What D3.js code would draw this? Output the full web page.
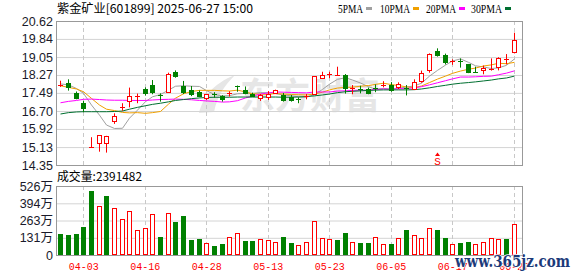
<!DOCTYPE html>
<html><head><meta charset="utf-8">
<script src="https://cdn.jsdelivr.net/npm/d3@7/dist/d3.min.js"></script>
<style>body{margin:0;background:#fff}svg{display:block}</style>
</head><body><div id="chart"></div>
<script>
const dates=["03-31","04-01","04-02","04-03","04-07","04-08","04-09","04-10","04-11","04-14","04-15","04-16","04-17","04-18","04-21","04-22","04-23","04-24","04-25","04-28","04-29","04-30","05-06","05-07","05-08","05-09","05-12","05-13","05-14","05-15","05-16","05-19","05-20","05-21","05-22","05-23","05-26","05-27","05-28","05-29","05-30","06-03","06-04","06-05","06-06","06-09","06-10","06-11","06-12","06-13","06-16","06-17","06-18","06-19","06-20","06-23","06-24","06-25","06-26","06-27"];
const open =[17.82,17.93,17.50,17.06,15.10,15.30,15.30,16.27,16.87,17.15,17.36,17.65,17.83,17.39,17.52,18.41,17.79,17.60,17.53,17.28,17.44,17.34,17.45,17.81,17.62,17.45,17.28,17.31,17.50,17.40,17.33,17.22,17.33,17.44,18.13,18.27,18.25,18.25,17.69,17.66,17.65,17.72,17.82,17.83,17.73,17.71,17.68,18.02,18.49,19.31,19.14,18.85,18.90,18.73,18.42,18.49,18.47,18.62,18.96,19.26];
const high =[18.02,18.08,17.55,17.14,15.56,15.65,15.62,16.60,17.04,17.72,17.46,17.73,18.05,17.47,18.37,18.47,18.01,17.79,17.60,17.44,17.52,17.39,17.56,17.81,17.77,17.50,17.44,17.57,17.63,17.49,17.40,17.30,17.44,18.22,18.41,18.41,18.63,18.31,17.83,17.80,17.72,17.86,18.00,17.96,17.95,17.83,18.08,18.46,19.21,19.43,19.20,18.95,18.99,18.75,18.63,18.68,18.99,19.04,19.18,20.11];
const low  =[17.75,17.59,17.21,16.65,15.10,14.93,14.89,16.14,16.71,16.86,17.04,17.37,17.43,17.11,17.50,18.15,17.44,17.35,17.30,17.18,17.28,17.11,17.33,17.54,17.43,17.31,17.14,17.18,17.48,17.11,17.11,17.04,17.21,17.42,18.12,18.13,18.24,17.46,17.43,17.47,17.43,17.52,17.73,17.54,17.65,17.38,17.66,17.93,18.37,19.07,18.73,18.71,18.59,18.35,18.38,18.30,18.46,18.47,18.73,19.21];
const close=[17.83,17.76,17.25,16.85,15.12,15.64,15.60,16.48,16.89,17.35,17.37,17.47,17.53,17.37,18.31,18.23,17.54,17.43,17.35,17.42,17.38,17.21,17.47,17.79,17.50,17.36,17.40,17.44,17.62,17.19,17.17,17.20,17.34,18.21,18.28,18.30,18.26,17.69,17.71,17.64,17.49,17.70,17.84,17.63,17.86,17.69,17.98,18.37,19.17,19.14,18.85,18.87,18.84,18.39,18.40,18.59,18.51,18.99,18.97,19.79];
// volume in 万 (10k)
const volume=[160,152,160,213,488,374,450,358,272,335,191,206,312,137,320,251,297,114,122,91,69,84,137,168,107,107,122,114,99,137,91,76,99,259,130,122,114,168,99,91,91,137,84,84,130,191,152,130,206,191,130,84,91,99,84,99,130,122,122,239];
// 1 = red (up vs previous close), 0 = green
const volUp=[0,0,0,0,0,1,0,1,1,1,1,1,1,0,1,0,0,0,0,1,0,0,1,1,0,0,1,1,1,0,0,1,1,1,1,1,0,0,1,0,0,1,1,0,1,0,1,1,1,0,0,1,0,0,1,1,1,1,0,1];
const ma5 =[17.88,17.84,17.68,17.47,16.96,16.52,16.09,15.94,15.95,16.39,16.74,17.11,17.32,17.42,17.61,17.78,17.80,17.78,17.77,17.59,17.42,17.36,17.37,17.45,17.47,17.47,17.50,17.50,17.46,17.40,17.36,17.32,17.30,17.42,17.64,17.87,18.08,18.15,18.05,17.92,17.76,17.65,17.68,17.66,17.70,17.74,17.80,17.91,18.22,18.47,18.70,18.88,18.97,18.82,18.67,18.62,18.55,18.58,18.69,18.97];
const ma10=[17.80,17.73,17.66,17.54,17.25,16.96,16.78,16.72,16.64,16.62,16.63,16.60,16.63,16.68,17.00,17.26,17.45,17.55,17.60,17.60,17.60,17.58,17.57,17.61,17.53,17.45,17.43,17.43,17.46,17.44,17.42,17.41,17.40,17.44,17.52,17.62,17.70,17.73,17.74,17.78,17.81,17.86,17.91,17.85,17.81,17.75,17.72,17.79,17.94,18.09,18.22,18.34,18.44,18.52,18.57,18.66,18.71,18.78,18.76,18.82];
const ma20=[17.06,17.12,17.16,17.21,17.22,17.20,17.18,17.17,17.17,17.16,17.16,17.16,17.18,17.20,17.21,17.22,17.21,17.19,17.16,17.14,17.12,17.09,17.10,17.15,17.27,17.35,17.44,17.49,17.53,17.52,17.51,17.50,17.49,17.53,17.53,17.53,17.57,17.58,17.60,17.61,17.61,17.64,17.66,17.65,17.67,17.68,17.71,17.76,17.84,17.93,18.02,18.10,18.18,18.18,18.19,18.21,18.22,18.28,18.35,18.45];
const ma30=[16.57,16.63,16.66,16.67,16.67,16.67,16.67,16.68,16.70,16.78,16.86,16.93,16.99,17.04,17.10,17.16,17.20,17.24,17.27,17.29,17.30,17.30,17.30,17.31,17.31,17.31,17.31,17.31,17.31,17.30,17.30,17.31,17.33,17.36,17.40,17.44,17.50,17.54,17.56,17.58,17.60,17.61,17.62,17.62,17.62,17.62,17.63,17.66,17.71,17.77,17.82,17.87,17.91,17.94,17.97,18.01,18.05,18.10,18.14,18.22];
const priceTicks=[14.35,15.13,15.92,16.70,17.49,18.27,19.05,19.84,20.62];
const volTicks=[0,131,263,394,526];
const volTickLabels=["0","131万","263万","394万","526万"];
const xTickIdx=[3,11,19,27,35,43,51,59];
const maNames=["5PMA","10PMA","20PMA","30PMA"];
const title="紫金矿业[601899] 2025-06-27 15:00";
const volTitle="成交量:2391482";
const signalIdx=49;

const W=578,H=276;
const L=56,R=522,PT=21,PB=165,VT=186,VB=255;
const RED="#ff0000",GREEN="#008000";
const maColors=["#a0a0a0","#f0a000","#ff00ff","#006f30"];

const svg=d3.select("#chart").append("svg").attr("width",W).attr("height",H);
const x=d3.scaleLinear().domain([0,59]).range([60.2,513.7]);
const yP=d3.scaleLinear().domain([14.35,20.62]).range([PB,PT]);
const yV=d3.scaleLinear().domain([0,526]).range([VB,VT]);
const cx=i=>Math.round(x(i));

// watermark (behind)
const wm=svg.append("g").attr("fill","#e6e6e6");
wm.append("path").attr("d","M199,113 C203,98 212,84 235,75 C224,86 217,97 214,112 Z M206,104 C211,92 219,84 228,80");
wm.append("text").attr("x",240).attr("y",109).attr("font-family","Noto Sans CJK SC").attr("font-weight","bold")
  .attr("font-size",36).attr("textLength",140).attr("lengthAdjust","spacingAndGlyphs").text("东方财富");

// price grid / axis
const gp=svg.append("g").attr("transform",`translate(${L},0)`)
  .call(d3.axisLeft(yP).tickValues(priceTicks).tickSize(-(R-L)).tickPadding(3).tickFormat(d=>d.toFixed(2)));
gp.select(".domain").remove();
gp.selectAll(".tick line").attr("stroke","#d4d4d4");
gp.selectAll(".tick text").attr("font-family","Liberation Sans, Arial").attr("font-size",12.5).attr("fill","#1a1a2a");

const gv=svg.append("g").attr("transform",`translate(${L},0)`)
  .call(d3.axisLeft(yV).tickValues(volTicks).tickSize(-(R-L)).tickPadding(3).tickFormat((d,i)=>volTickLabels[i]));
gv.select(".domain").remove();
gv.selectAll(".tick line").attr("stroke","#d4d4d4");
gv.selectAll(".tick text").attr("font-family","Liberation Sans, Noto Sans CJK SC").attr("font-size",12.5).attr("fill","#1a1a2a");

// vertical dashed grid
const vg=svg.append("g").attr("stroke","#c8c8c8").attr("stroke-dasharray","4,3");
xTickIdx.forEach(i=>{
  vg.append("line").attr("x1",cx(i)+0.5).attr("x2",cx(i)+0.5).attr("y1",PT).attr("y2",PB);
  vg.append("line").attr("x1",cx(i)+0.5).attr("x2",cx(i)+0.5).attr("y1",VT).attr("y2",VB);
});

// borders
svg.append("rect").attr("x",L+0.5).attr("y",PT+0.5).attr("width",R-L).attr("height",PB-PT).attr("fill","none").attr("stroke","#999");
svg.append("rect").attr("x",L+0.5).attr("y",VT+0.5).attr("width",R-L).attr("height",VB-VT).attr("fill","none").attr("stroke","#999");

// x labels
const gx=svg.append("g").attr("transform",`translate(0,${VB})`)
  .call(d3.axisBottom(x).tickValues(xTickIdx).tickSize(0).tickPadding(7).tickFormat(i=>dates[i]));
gx.select(".domain").remove();
gx.selectAll(".tick text").attr("font-family","Liberation Mono, DejaVu Sans Mono").attr("font-size",11.5)
  .attr("fill",RED).attr("textLength",30).attr("lengthAdjust","spacingAndGlyphs");

// MA lines
[ma5,ma10,ma20,ma30].forEach((arr,k)=>{
  svg.append("path").datum(arr).attr("fill","none").attr("stroke",maColors[k]).attr("stroke-width",1)
    .attr("d",d3.line().x((d,i)=>cx(i)+0.5).y(d=>yP(d)));
});

// candles
const gc=svg.append("g");
close.forEach((c,i)=>{
  const o=open[i],up=c>=o,col=up?RED:GREEN,px=cx(i);
  const yt=Math.round(yP(Math.max(o,c))),yb=Math.round(yP(Math.min(o,c)));
  const yh=yP(high[i]),yl=yP(low[i]);
  if(yb-yt<2){
    gc.append("line").attr("x1",px+0.5).attr("x2",px+0.5).attr("y1",yh).attr("y2",yl).attr("stroke",col);
    gc.append("line").attr("x1",px-2).attr("x2",px+3).attr("y1",yt+0.5).attr("y2",yt+0.5).attr("stroke",col);
  } else if(up){
    gc.append("line").attr("x1",px+0.5).attr("x2",px+0.5).attr("y1",yh).attr("y2",yt+0.5).attr("stroke",col);
    gc.append("line").attr("x1",px+0.5).attr("x2",px+0.5).attr("y1",yb+0.5).attr("y2",yl).attr("stroke",col);
    gc.append("rect").attr("x",px-1.5).attr("y",yt+0.5).attr("width",4).attr("height",yb-yt).attr("fill","#fff").attr("stroke",col);
  } else {
    gc.append("line").attr("x1",px+0.5).attr("x2",px+0.5).attr("y1",yh).attr("y2",yl).attr("stroke",col);
    gc.append("rect").attr("x",px-2).attr("y",yt).attr("width",5).attr("height",yb-yt+1).attr("fill",col);
  }
});

// volume bars
const gb=svg.append("g");
volume.forEach((v,i)=>{
  const px=cx(i),yt=Math.round(yV(v));
  if(volUp[i]) gb.append("rect").attr("x",px-1.5).attr("y",yt+0.5).attr("width",4).attr("height",VB-yt-1).attr("fill","#fff").attr("stroke",RED);
  else gb.append("rect").attr("x",px-2).attr("y",yt).attr("width",5).attr("height",VB-yt).attr("fill",GREEN);
});

// signal marker
const sx=cx(signalIdx)+0.5;
svg.append("path").attr("d",`M${sx-2.5},156 L${sx},152.5 L${sx+2.5},156 Z`).attr("fill",RED);
svg.append("text").attr("x",sx).attr("y",164.5).attr("text-anchor","middle").attr("font-family","Liberation Mono").attr("font-size",11).attr("fill",RED).text("S");

// title
svg.append("text").attr("x",57).attr("y",12.5).attr("font-family","Noto Sans CJK SC").attr("font-size",12)
  .attr("textLength",196).attr("lengthAdjust","spacingAndGlyphs").attr("fill","#000").text(title);
// legend
const legX=[338,380,426,471],legW=[25,30,30,31];
maNames.forEach((n,k)=>{
  svg.append("text").attr("x",legX[k]).attr("y",12.5).attr("font-family","Liberation Serif, DejaVu Serif").attr("font-size",12)
    .attr("textLength",legW[k]).attr("lengthAdjust","spacingAndGlyphs").attr("fill","#000").text(n);
  svg.append("rect").attr("x",legX[k]+legW[k]+3).attr("y",7).attr("width",6).attr("height",3).attr("fill",maColors[k]);
});
// volume title
svg.append("text").attr("x",57).attr("y",181).attr("font-family","Noto Sans CJK SC").attr("font-size",12)
  .attr("textLength",85).attr("lengthAdjust","spacingAndGlyphs").attr("fill","#000").text(volTitle);

// site watermark
svg.append("text").attr("x",455).attr("y",267).attr("font-family","DejaVu Serif").attr("font-weight","bold").attr("font-size",16)
  .attr("textLength",115).attr("lengthAdjust","spacingAndGlyphs").attr("fill","#1b3a7a")
  .attr("stroke","#fff").attr("stroke-width",1.5).attr("paint-order","stroke").text("www.365jz.com");
</script></body></html>
